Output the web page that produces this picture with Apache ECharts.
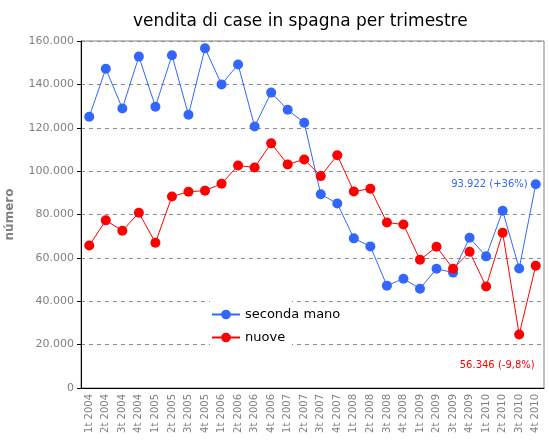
<!DOCTYPE html>
<html>
<head>
<meta charset="utf-8">
<script src="https://cdn.jsdelivr.net/npm/echarts@6/dist/echarts.min.js"></script>
<style>
  html, body { margin: 0; padding: 0; background: #fff; }
  #chart { width: 549px; height: 441px; }
</style>
</head>
<body>
<div id="chart"></div>
<script>
// trimestri
const quarters = [
  '1t 2004', '2t 2004', '3t 2004', '4t 2004',
  '1t 2005', '2t 2005', '3t 2005', '4t 2005',
  '1t 2006', '2t 2006', '3t 2006', '4t 2006',
  '1t 2007', '2t 2007', '3t 2007', '4t 2007',
  '1t 2008', '2t 2008', '3t 2008', '4t 2008',
  '1t 2009', '2t 2009', '3t 2009', '4t 2009',
  '1t 2010', '2t 2010', '3t 2010', '4t 2010'
];

// case di seconda mano
const secondaMano = [
  125100, 147200, 128900, 152800,
  129700, 153400, 126000, 156600,
  140000, 149200, 120600, 136200,
  128300, 122300, 89300, 85100,
  69000, 65300, 47200, 50400,
  45800, 55000, 53200, 69300,
  60700, 81700, 55100, 93922
];

// case nuove
const nuove = [
  65700, 77300, 72500, 80800,
  67000, 88300, 90500, 91000,
  94200, 102600, 101700, 112800,
  103100, 105400, 97700, 107300,
  90600, 91900, 76300, 75400,
  59100, 65100, 55000, 62800,
  46800, 71600, 24700, 56346
];

const yTicks = [0, 20000, 40000, 60000, 80000, 100000, 120000, 140000, 160000];

const lastNote = { seconda: '93.922 (+36%)', nuove: '56.346 (-9,8%)' };

const FONT = 'DejaVu Sans';
const BLUE = '#3366ff';
const RED = '#ff0000';

function fmt(v) {
  return String(v).replace(/\B(?=(\d{3})+(?!\d))/g, '.');
}

// etichetta solo sull'ultimo punto
function withLastLabel(values, label) {
  return values.map((v, i) => {
    if (i !== values.length - 1) return v;
    return { value: v, label };
  });
}

const chart = echarts.init(document.getElementById('chart'));

chart.setOption({
  animation: false,
  textStyle: { fontFamily: FONT },
  title: {
    text: 'vendita di case in spagna per trimestre',
    left: 128,
    top: 8,
    textStyle: { fontFamily: FONT, fontSize: 17, fontWeight: 'normal', color: '#000' }
  },
  grid: {
    left: 81, right: 5, top: 41, bottom: 53,
    outerBoundsMode: 'none',
    show: true, borderColor: '#808080', borderWidth: 1
  },
  graphic: [{
    type: 'rect', left: 210, top: 295, z: 1,
    shape: { width: 82, height: 56 },
    style: { fill: '#fff' }
  }],
  legend: {
    orient: 'vertical',
    left: 206,
    top: 303,
    itemWidth: 28,
    itemHeight: 12,
    itemGap: 10,
    textStyle: { fontFamily: FONT, fontSize: 13, color: '#000' },
    data: ['seconda mano', 'nuove']
  },
  xAxis: {
    type: 'category',
    data: quarters,
    boundaryGap: true,
    axisLine: { lineStyle: { color: '#000' } },
    axisTick: { interval: 0, length: 4, lineStyle: { color: '#000' } },
    axisLabel: {
      interval: 0, rotate: 90, fontFamily: FONT, fontSize: 10, color: '#808080', margin: 6
    },
    splitLine: { show: false }
  },
  yAxis: {
    type: 'value',
    min: yTicks[0],
    max: yTicks[yTicks.length - 1],
    interval: yTicks[1] - yTicks[0],
    name: 'número',
    nameLocation: 'middle',
    nameGap: 65,
    nameMoveOverlap: false,
    nameRotate: 90,
    nameTextStyle: { fontFamily: FONT, fontSize: 12, fontWeight: 'bold', color: '#808080' },
    axisLine: { show: true, lineStyle: { color: '#000' } },
    axisTick: { show: true, length: 4, lineStyle: { color: '#000' } },
    axisLabel: { fontFamily: FONT, fontSize: 11, color: '#808080', margin: 7, formatter: fmt },
    splitLine: { lineStyle: { color: '#8c8c8c', type: [4, 4], width: 1 } }
  },
  series: [
    {
      name: 'seconda mano',
      type: 'line',
      data: withLastLabel(secondaMano, {
        show: true, position: 'left', distance: 3,
        formatter: lastNote.seconda,
        fontFamily: FONT, fontSize: 10, color: BLUE
      }),
      symbol: 'circle',
      symbolSize: 10,
      itemStyle: { color: BLUE },
      lineStyle: { color: BLUE, width: 1 },
      z: 3
    },
    {
      name: 'nuove',
      type: 'line',
      data: withLastLabel(nuove, {
        show: true, position: [4, 105], align: 'right', verticalAlign: 'middle',
        formatter: lastNote.nuove,
        fontFamily: FONT, fontSize: 10, color: RED
      }),
      symbol: 'circle',
      symbolSize: 10,
      itemStyle: { color: RED },
      lineStyle: { color: RED, width: 1 },
      z: 3
    }
  ]
});
</script>
</body>
</html>
